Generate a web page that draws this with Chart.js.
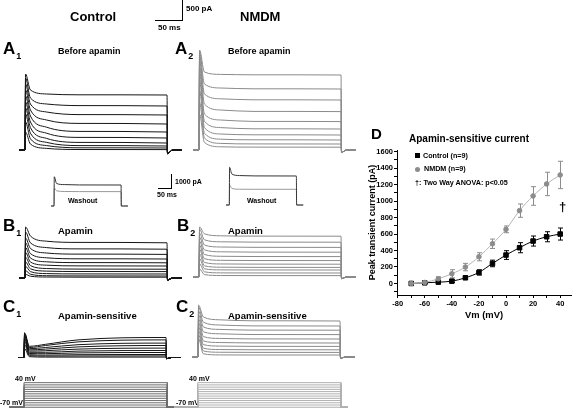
<!DOCTYPE html>
<html>
<head>
<meta charset="utf-8">
<script src="https://cdn.jsdelivr.net/npm/chart.js@4.4.1/dist/chart.umd.min.js"></script>
<style>
  html, body { margin: 0; padding: 0; background: #fff; }
  body { width: 576px; height: 408px; position: relative; overflow: hidden;
         font-family: "Liberation Sans", Arial, sans-serif; }
  canvas { position: absolute; }
  .t { position: absolute; font-weight: bold; white-space: nowrap; line-height: 1; color: #000;
       will-change: transform; -webkit-font-smoothing: antialiased; }
  .bar { position: absolute; background: #000; }
  .sub { font-size: 9px; position: relative; top: 5px; margin-left: 1px; }
</style>
</head>
<body>
<!-- column headers + first scale bar -->
<div class="t" style="left:70px;top:9.5px;font-size:13px">Control</div>
<div class="t" style="left:240px;top:9.5px;font-size:13px">NMDM</div>
<div class="bar" style="left:182px;top:0;width:1px;height:21px"></div>
<div class="bar" style="left:155px;top:20px;width:28px;height:1px"></div>
<div class="t" style="left:186px;top:5px;font-size:8px">500 pA</div>
<div class="t" style="left:158px;top:24px;font-size:8px">50 ms</div>

<!-- panel labels -->
<div class="t" style="left:3px;top:40px;font-size:17px">A<span class="sub">1</span></div>
<div class="t" style="left:175px;top:40px;font-size:17px">A<span class="sub">2</span></div>
<div class="t" style="left:58px;top:46.5px;font-size:9px">Before apamin</div>
<div class="t" style="left:228px;top:46.5px;font-size:9px">Before apamin</div>

<div class="t" style="left:3px;top:216.5px;font-size:17px">B<span class="sub">1</span></div>
<div class="t" style="left:177px;top:216.5px;font-size:17px">B<span class="sub">2</span></div>
<div class="t" style="left:58px;top:226px;font-size:9.5px">Apamin</div>
<div class="t" style="left:228px;top:226px;font-size:9.5px">Apamin</div>

<div class="t" style="left:3px;top:297.5px;font-size:17px">C<span class="sub">1</span></div>
<div class="t" style="left:176px;top:297.5px;font-size:17px">C<span class="sub">2</span></div>
<div class="t" style="left:58px;top:311px;font-size:9.5px">Apamin-sensitive</div>
<div class="t" style="left:228px;top:311px;font-size:9.5px">Apamin-sensitive</div>

<!-- washout insets -->
<div class="t" style="left:68px;top:197px;font-size:7px">Washout</div>
<div class="t" style="left:247px;top:197px;font-size:7px">Washout</div>
<div class="bar" style="left:171px;top:174px;width:1px;height:15px"></div>
<div class="bar" style="left:158px;top:188px;width:14px;height:1px"></div>
<div class="t" style="left:175px;top:178px;font-size:7px">1000 pA</div>
<div class="t" style="left:157px;top:190.5px;font-size:7px">50 ms</div>

<!-- voltage protocol labels -->
<div class="t" style="left:15px;top:374.5px;font-size:7px">40 mV</div>
<div class="t" style="left:0px;top:398.5px;font-size:7px">-70 mV</div>
<div class="t" style="left:189px;top:374.5px;font-size:7px">40 mV</div>
<div class="t" style="left:176px;top:398.5px;font-size:7px">-70 mV</div>

<!-- panel D texts -->
<div class="t" style="left:371px;top:126px;font-size:15px">D</div>
<div class="t" style="left:409px;top:134px;font-size:10px">Apamin-sensitive current</div>
<div style="position:absolute;left:415px;top:153px;width:5px;height:5px;background:#000"></div>
<div class="t" style="left:423px;top:151.7px;font-size:7.2px">Control (n=9)</div>
<div style="position:absolute;left:415px;top:166.5px;width:5px;height:5px;border-radius:50%;background:#8c8c8c"></div>
<div class="t" style="left:424px;top:165.4px;font-size:7.2px">NMDM (n=9)</div>
<div class="t" style="left:415px;top:178.7px;font-size:7.2px">†: Two Way ANOVA: p&lt;0.05</div>
<div class="t" style="left:559px;top:200px;font-size:13px">†</div>

<script>
// ---- current traces: each row = current (pA) at the sample times below ----
const sampleT = [1, 10, 40, 100, 263];   // ms after step onset
const STEP_END = 263;

const a1Traces = [
  [1900, 1500, 1400, 1380, 1375],
  [1800, 1300, 1150, 1110, 1100],
  [1650, 1150, 950, 885, 875],
  [1500, 1000, 750, 665, 650],
  [1350, 850, 570, 465, 450],
  [1200, 700, 420, 315, 300],
  [1050, 560, 290, 190, 175],
  [900, 420, 190, 110, 100],
  [700, 280, 110, 55, 50],
  [450, 150, 40, 12, 10]
];
const a2Traces = [
  [2500, 1950, 1890, 1880, 1875],
  [2450, 1650, 1550, 1530, 1525],
  [2350, 1400, 1280, 1255, 1250],
  [2250, 1150, 1000, 965, 960],
  [2100, 900, 750, 715, 710],
  [1950, 720, 560, 530, 525],
  [1750, 560, 400, 380, 375],
  [1500, 420, 270, 255, 250],
  [1200, 300, 165, 152, 150],
  [900, 190, 80, 72, 70]
];
const b1Traces = [
  [1275, 1050, 920, 890, 880],
  [1150, 880, 760, 728, 720],
  [1000, 740, 625, 597, 590],
  [880, 610, 505, 480, 475],
  [760, 500, 405, 385, 380],
  [640, 400, 320, 303, 300],
  [520, 310, 237, 223, 220],
  [400, 230, 172, 162, 160],
  [290, 160, 110, 102, 100],
  [180, 95, 57, 52, 50],
  [90, 45, 24, 21, 20]
];
const b2Traces = [
  [1250, 1080, 1030, 1022, 1020],
  [1200, 930, 880, 872, 870],
  [1100, 800, 750, 742, 740],
  [1000, 680, 630, 622, 620],
  [900, 565, 518, 512, 510],
  [800, 460, 417, 412, 410],
  [700, 365, 326, 322, 320],
  [580, 280, 245, 241, 240],
  [460, 205, 178, 176, 175],
  [330, 130, 103, 101, 100],
  [200, 60, 37, 35, 35]
];
const c1Traces = [
  [620, 280, 330, 440, 500],
  [600, 250, 300, 390, 440],
  [580, 220, 250, 320, 360],
  [560, 190, 210, 265, 300],
  [540, 160, 170, 210, 235],
  [500, 130, 130, 160, 175],
  [460, 100, 95, 115, 125],
  [400, 70, 60, 70, 75],
  [320, 45, 35, 38, 40],
  [220, 20, 10, 10, 10]
];
const c2Traces = [
  [1300, 1000, 930, 905, 900],
  [1250, 870, 800, 778, 775],
  [1150, 750, 690, 672, 670],
  [1050, 630, 580, 562, 560],
  [950, 510, 465, 452, 450],
  [850, 400, 362, 352, 350],
  [750, 310, 273, 266, 265],
  [650, 220, 186, 181, 180],
  [550, 150, 119, 116, 115],
  [450, 80, 52, 50, 50]
];
const b1Washout = [
  [2080, 1600, 1520, 1495, 1490],
  [1280, 1080, 1030, 1022, 1020]
];
const b2Washout = [
  [2680, 2200, 2090, 2065, 2060],
  [1420, 1180, 1120, 1117, 1115]
];

// voltage steps (mV)
const stepLevels = [40, 30, 20, 10, 0, -10, -20, -30, -40, -50, -60, -70];
const HOLDING = -70;

// ---- panel D ----
const vm = [-70, -60, -50, -40, -30, -20, -10, 0, 10, 20, 30, 40];
const ctrlMean = [0, 8, 16, 28, 69, 134, 243, 345, 434, 515, 567, 600];
const ctrlSem = [4, 6, 8, 16, 20, 32, 40, 53, 61, 61, 61, 73];
const nmdmMean = [0, 12, 57, 118, 199, 324, 482, 657, 884, 1062, 1208, 1317];
const nmdmSem = [4, 12, 24, 49, 45, 49, 57, 41, 81, 113, 142, 166];

Chart.defaults.font.family = '"Liberation Sans", Arial, sans-serif';
Chart.defaults.animation = false;

function place(box) {
  const c = document.createElement('canvas');
  c.width = box.w; c.height = box.h;
  c.style.left = box.left + 'px';
  c.style.top = box.top + 'px';
  document.body.appendChild(c);
  return c;
}

// axis ranges so that time 0 sits at x0 and value 0 sits at y0
function ranges(box) {
  const xMin = -(box.x0 - box.left) / box.pxX;
  const xMax = xMin + box.w / box.pxX;
  const yMax = (box.y0 - box.top) * box.uY;
  const yMin = yMax - box.h * box.uY;
  return { xMin, xMax, yMin, yMax };
}

function plainOpts(r) {
  return {
    responsive: false, animation: false, events: [],
    layout: { padding: 0 },
    plugins: { legend: { display: false }, tooltip: { enabled: false } },
    elements: { point: { radius: 0 } },
    scales: {
      x: { type: 'linear', display: false, min: r.xMin, max: r.xMax },
      y: { display: false, min: r.yMin, max: r.yMax }
    }
  };
}

function tracePanel(box, rows, colors, tail) {
  const c = place(box);
  const r = ranges(box);
  const datasets = rows.map((row, k) => ({
    data: [{ x: r.xMin, y: 0 }, { x: 0, y: 0 }]
      .concat(sampleT.map((t, i) => ({ x: t, y: row[i] })))
      .concat([{ x: STEP_END + 1, y: tail }, { x: STEP_END + 10, y: 0 }, { x: STEP_END + 27, y: 0 }]),
    borderColor: Array.isArray(colors) ? colors[k] : colors,
    borderWidth: 1,
    pointRadius: 0,
    cubicInterpolationMode: 'monotone'
  }));
  new Chart(c, { type: 'line', data: { datasets }, options: plainOpts(r) });
}

function protocolPanel(box, color) {
  const c = place(box);
  const r = ranges(box);
  const datasets = stepLevels.map(v => ({
    data: [
      { x: r.xMin, y: HOLDING }, { x: 0, y: HOLDING }, { x: 0, y: v },
      { x: STEP_END, y: v }, { x: STEP_END, y: HOLDING }, { x: r.xMax, y: HOLDING }
    ],
    borderColor: color, borderWidth: 1, pointRadius: 0, tension: 0
  }));
  new Chart(c, { type: 'line', data: { datasets }, options: plainOpts(r) });
}

const BLACK = '#151515', GREY = '#8a8a8a';

tracePanel({ left: 19, top: 45, w: 170, h: 115, x0: 25, y0: 150, pxX: 0.54, uY: 25 }, a1Traces, BLACK, -90);
tracePanel({ left: 193, top: 45, w: 170, h: 115, x0: 199, y0: 150, pxX: 0.54, uY: 25 }, a2Traces, GREY, -60);
tracePanel({ left: 19, top: 214, w: 170, h: 74, x0: 25, y0: 278, pxX: 0.54, uY: 25 }, b1Traces, BLACK, -50);
tracePanel({ left: 193, top: 214, w: 170, h: 74, x0: 199, y0: 277, pxX: 0.54, uY: 25 }, b2Traces, GREY, -40);
tracePanel({ left: 18, top: 296, w: 170, h: 70, x0: 24, y0: 357.5, pxX: 0.54, uY: 25 }, c1Traces, BLACK, -30);
tracePanel({ left: 192, top: 296, w: 170, h: 70, x0: 198, y0: 357, pxX: 0.54, uY: 25 }, c2Traces, GREY, -30);
tracePanel({ left: 51, top: 160, w: 80, h: 52, x0: 54, y0: 206, pxX: 0.255, uY: 71 }, b1Washout, ['#333', '#999'], 0);
tracePanel({ left: 226, top: 158, w: 80, h: 52, x0: 229.3, y0: 205, pxX: 0.255, uY: 71 }, b2Washout, ['#333', '#999'], 0);

protocolPanel({ left: 9, top: 377, w: 176, h: 31, x0: 24, y0: 391.6, pxX: 0.545, uY: 4.47 }, '#6e6e6e');
protocolPanel({ left: 174, top: 377, w: 174, h: 31, x0: 197.7, y0: 391.6, pxX: 0.545, uY: 4.47 }, '#b0b0b0');

// error bars drawn through the chart's own scales
const errorBars = {
  id: 'errorBars',
  beforeDatasetsDraw(chart) {
    const { ctx, scales: { x, y } } = chart;
    chart.data.datasets.forEach(ds => {
      if (!ds.errors) return;
      ctx.save();
      ctx.strokeStyle = ds.errColor;
      ctx.lineWidth = 1;
      ds.data.forEach((p, i) => {
        const e = ds.errors[i];
        const px = Math.round(x.getPixelForValue(p.x)) + 0.5;
        const top = y.getPixelForValue(p.y + e);
        const bot = y.getPixelForValue(p.y - e);
        ctx.beginPath();
        ctx.moveTo(px, top); ctx.lineTo(px, bot);
        ctx.moveTo(px - 2.5, top); ctx.lineTo(px + 2.5, top);
        ctx.moveTo(px - 2.5, bot); ctx.lineTo(px + 2.5, bot);
        ctx.stroke();
      });
      ctx.restore();
    });
  }
};

const dCanvas = place({ left: 366, top: 140, w: 210, h: 190 });
new Chart(dCanvas, {
  type: 'line',
  data: {
    datasets: [
      {
        label: 'NMDM (n=9)',
        data: vm.map((v, i) => ({ x: v, y: nmdmMean[i] })),
        errors: nmdmSem, errColor: '#8c8c8c',
        borderColor: '#b4b4b4', borderWidth: 1,
        pointStyle: 'circle', pointRadius: 2.3,
        pointBackgroundColor: '#8c8c8c', pointBorderColor: '#8c8c8c',
        cubicInterpolationMode: 'monotone'
      },
      {
        label: 'Control (n=9)',
        data: vm.map((v, i) => ({ x: v, y: ctrlMean[i] })),
        errors: ctrlSem, errColor: '#000',
        borderColor: '#000', borderWidth: 1,
        pointStyle: 'rect', pointRadius: 3.2,
        pointBackgroundColor: '#000', pointBorderColor: '#000',
        cubicInterpolationMode: 'monotone'
      }
    ]
  },
  options: {
    responsive: false, animation: false, events: [],
    layout: { padding: { top: 10, right: 3, left: 0, bottom: 0 } },
    plugins: { legend: { display: false }, tooltip: { enabled: false } },
    scales: {
      x: {
        type: 'linear', min: -80.5, max: 48,
        afterFit: s => { s.height = 35; },
        border: { color: '#000', width: 1 },
        grid: { drawOnChartArea: false, color: '#000', tickLength: 3 },
        ticks: {
          stepSize: 10, includeBounds: false, autoSkip: false, maxRotation: 0,
          padding: 1, color: '#000', font: { size: 7.5, weight: 'bold' },
          callback: v => (v % 20 === 0 ? v : '')
        },
        title: {
          display: true, text: 'Vm (mV)', color: '#000',
          font: { size: 9.4, weight: 'bold' }, padding: { top: 0, bottom: 9 }
        }
      },
      y: {
        min: -140, max: 1620,
        afterFit: s => { s.width = 31; },
        border: { color: '#000', width: 1 },
        grid: { drawOnChartArea: false, color: '#000', tickLength: 3 },
        ticks: {
          stepSize: 100, includeBounds: false, autoSkip: false,
          padding: 1, color: '#000', font: { size: 7.5, weight: 'bold' },
          callback: v => (v % 200 === 0 ? v : '')
        },
        title: {
          display: true, text: 'Peak transient current (pA)', color: '#000',
          font: { size: 9, weight: 'bold' }, padding: { top: 1, bottom: 0 }
        }
      }
    }
  },
  plugins: [errorBars]
});
</script>
</body>
</html>
